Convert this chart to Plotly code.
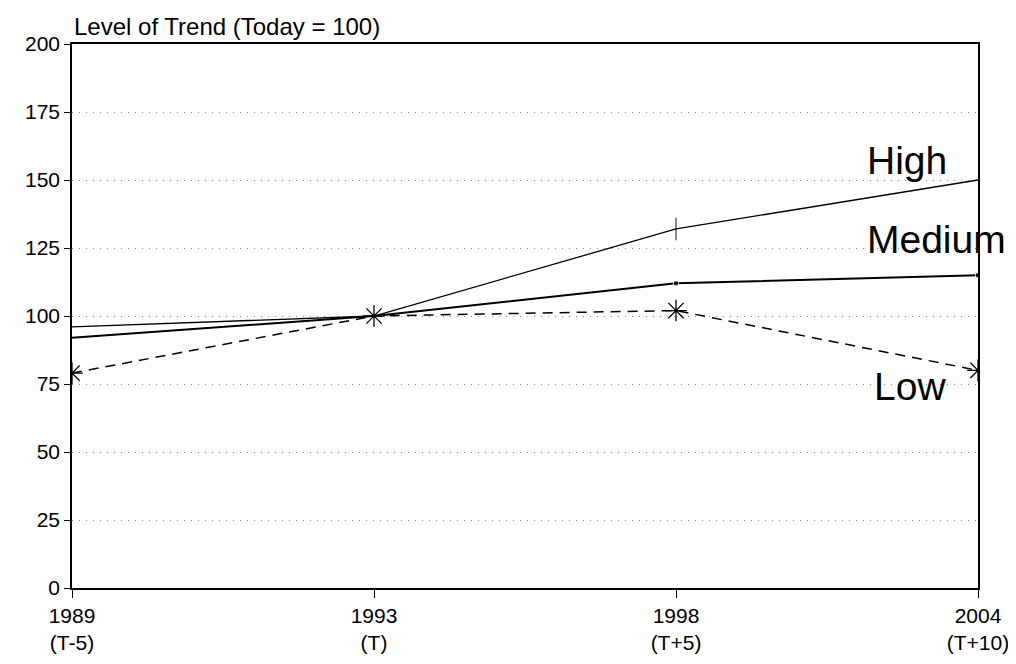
import plotly.graph_objects as go

years = ["1989<br>(T-5)", "1993<br>(T)", "1998<br>(T+5)", "2004<br>(T+10)"]
xpos = [0, 1, 2, 3]
high = [96, 100, 132, 150]
medium = [92, 100, 112, 115]
low = [79, 100, 102, 80]
y_ticks = [0, 25, 50, 75, 100, 125, 150, 175, 200]

FONT = 'Liberation Sans, Arial, sans-serif'

fig = go.Figure()

# High scenario
fig.add_trace(go.Scatter(x=xpos, y=high, mode='lines+markers', name='High',
                         line=dict(color='black', width=1.3),
                         marker=dict(symbol='line-ns-open', size=[0, 0, 16, 0],
                                     line=dict(color='black', width=1.3))))
# Medium scenario
fig.add_trace(go.Scatter(x=xpos, y=medium, mode='lines+markers', name='Medium',
                         line=dict(color='black', width=2),
                         marker=dict(symbol='square', size=[0, 0, 5, 5], color='black')))
# Low scenario
fig.add_trace(go.Scatter(x=xpos, y=low, mode='lines+markers', name='Low',
                         line=dict(color='black', width=1.5, dash='10px,7px'),
                         marker=dict(symbol='asterisk-open', size=18,
                                     line=dict(color='black', width=1.3))))

label_font = dict(family=FONT, size=39, color='black')
fig.add_annotation(x=2.626, y=157, xanchor='left', text='High', showarrow=False, font=label_font)
fig.add_annotation(x=2.626, y=128, xanchor='left', text='Medium', showarrow=False, font=label_font)
fig.add_annotation(x=2.649, y=74, xanchor='left', text='Low', showarrow=False, font=label_font)

fig.add_annotation(x=0, y=1.0, xref='paper', yref='paper', yanchor='bottom', xanchor='left',
                   yshift=2,
                   text='Level of Trend (Today = 100)', showarrow=False,
                   font=dict(family=FONT, size=24, color='black'))

fig.update_xaxes(range=[0, 3], tickvals=xpos, ticktext=years, showgrid=False,
                 showline=True, linecolor='black', linewidth=1.5, mirror=True,
                 ticks='outside', ticklen=8, tickcolor='black', zeroline=False,
                 automargin=False, tickfont=dict(family=FONT, size=21, color='black'))
fig.update_yaxes(range=[0, 200], tickvals=y_ticks, showgrid=True,
                 gridcolor='#888888', griddash='1px,6px', gridwidth=1,
                 showline=True, linecolor='black', linewidth=1.5, mirror=True,
                 ticks='outside', ticklen=6, tickcolor='black', zeroline=False,
                 automargin=False, tickfont=dict(family=FONT, size=21, color='black'))

# the page body adds an 8px offset, so the figure is sized to fit the window
fig.update_layout(width=1008, height=656, showlegend=False,
                  plot_bgcolor='white', paper_bgcolor='white',
                  font=dict(family=FONT, color='black'),
                  margin=dict(l=64, r=38, t=36, b=76))

fig.write_html("out.html")
